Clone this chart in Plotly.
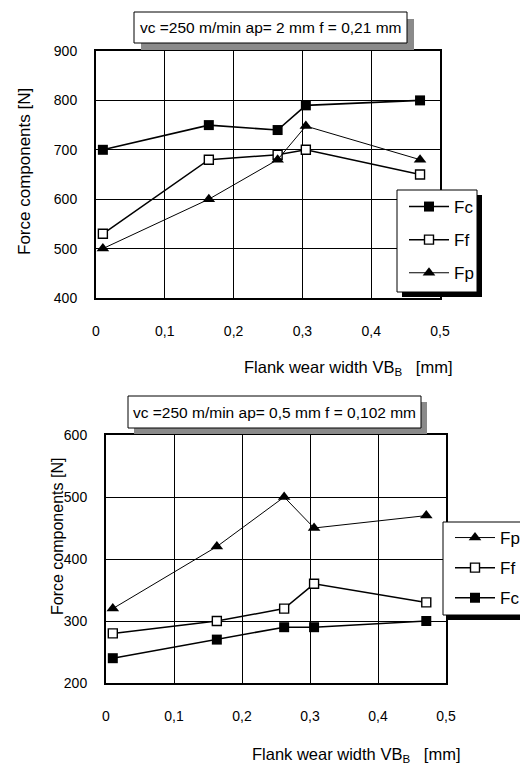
import plotly.graph_objects as go

W, H = 520, 767

# ---------------- data ----------------
X_TOP = [0.01, 0.164, 0.264, 0.305, 0.471]
FC_TOP = [700, 750, 740, 790, 800]
FF_TOP = [530, 680, 690, 700, 650]
FP_TOP = [500, 600, 680, 748, 680]

X_BOT = [0.01, 0.163, 0.262, 0.306, 0.471]
FP_BOT = [320, 420, 500, 450, 470]
FF_BOT = [280, 300, 320, 360, 330]
FC_BOT = [240, 270, 290, 290, 300]

X_TICKS = [0, 0.1, 0.2, 0.3, 0.4, 0.5]
Y_TICKS_TOP = [400, 500, 600, 700, 800, 900]
Y_TICKS_BOT = [200, 300, 400, 500, 600]

TITLE_TOP = "vc =250 m/min ap= 2 mm f = 0,21 mm"
TITLE_BOT = "vc =250 m/min ap= 0,5 mm f = 0,102 mm"
Y_TITLE = "Force components [N]"
X_TITLE = "Flank wear width VB<sub>B</sub>\u00a0\u00a0\u00a0[mm]"

FONT = "Liberation Sans, Arial, sans-serif"


def px(x):
    return x / W


def py(y):
    return 1 - y / H


STYLE = {
    "Fc": dict(marker=dict(symbol="square", size=10, color="black",
                           line=dict(color="black", width=0)),
               line=dict(color="black", width=1.6)),
    "Ff": dict(marker=dict(symbol="square", size=9, color="white",
                           line=dict(color="black", width=1.4)),
               line=dict(color="black", width=1.5)),
    "Fp": dict(marker=dict(symbol="triangle-up", size=11, color="black",
                           line=dict(color="black", width=0)),
               line=dict(color="black", width=1)),
}

fig = go.Figure()

top_series = [("Fc", FC_TOP), ("Ff", FF_TOP), ("Fp", FP_TOP)]
for name, vals in top_series:
    fig.add_trace(go.Scatter(x=X_TOP, y=vals, name=name, mode="lines+markers",
                             xaxis="x", yaxis="y", legend="legend",
                             legendgroup="t" + name, **STYLE[name]))

bot_series = [("Fp", FP_BOT), ("Ff", FF_BOT), ("Fc", FC_BOT)]
for name, vals in bot_series:
    fig.add_trace(go.Scatter(x=X_BOT, y=vals, name=name, mode="lines+markers",
                             xaxis="x2", yaxis="y2", legend="legend2",
                             legendgroup="b" + name, **STYLE[name]))

axis_common = dict(showgrid=True, gridcolor="black", gridwidth=1,
                   showline=True, linecolor="black", linewidth=2, mirror=True,
                   ticks="", zeroline=False, tickfont=dict(family=FONT, size=14, color="black"))

xa_common = dict(axis_common, range=[0, 0.5], tickvals=X_TICKS, ticklabelstandoff=19)

legend_common = dict(xanchor="left", yanchor="top", bgcolor="rgba(0,0,0,0)",
                     borderwidth=0, itemwidth=40,
                     font=dict(family=FONT, size=17, color="black"),
                     traceorder="grouped")

fig.update_layout(
    width=W, height=H,
    margin=dict(l=0, r=0, t=0, b=0, autoexpand=False),
    paper_bgcolor="white", plot_bgcolor="white",
    separators=", ",
    font=dict(family=FONT, color="black"),
    xaxis=dict(xa_common, domain=[px(96), px(440)], anchor="y"),
    yaxis=dict(axis_common, domain=[py(298), py(51)], anchor="x",
               range=[400, 900], tickvals=Y_TICKS_TOP, ticklabelstandoff=14),
    xaxis2=dict(xa_common, domain=[px(106), px(446)], anchor="y2"),
    yaxis2=dict(axis_common, domain=[py(683), py(435)], anchor="x2",
                range=[200, 600], tickvals=Y_TICKS_BOT, ticklabelstandoff=14),
    legend=dict(legend_common, x=px(404), y=py(189), tracegroupgap=8),
    legend2=dict(legend_common, x=px(450), y=py(520), tracegroupgap=5),
)

shapes = []
# title boxes with grey shadow
for (x0, y0, x1, y1, d) in [(134, 12, 407, 43, 7), (128, 396, 421, 428, 6)]:
    shapes.append(dict(type="rect", xref="paper", yref="paper",
                       x0=px(x0 + d), x1=px(x1 + d), y0=py(y0 + d), y1=py(y1 + d),
                       fillcolor="#8a8a8a", line=dict(width=0), layer="above"))
    shapes.append(dict(type="rect", xref="paper", yref="paper",
                       x0=px(x0), x1=px(x1), y0=py(y0), y1=py(y1),
                       fillcolor="white", line=dict(color="black", width=1), layer="above"))
# legend boxes with black shadow
for (x0, y0, x1, y1, d) in [(397, 190, 477, 292, 5), (443, 522, 545, 615, 5)]:
    shapes.append(dict(type="rect", xref="paper", yref="paper",
                       x0=px(x0 + d), x1=px(x1 + d), y0=py(y0 + d), y1=py(y1 + d),
                       fillcolor="black", line=dict(width=0), layer="above"))
    shapes.append(dict(type="rect", xref="paper", yref="paper",
                       x0=px(x0), x1=px(x1), y0=py(y0), y1=py(y1),
                       fillcolor="white", line=dict(color="black", width=1), layer="above"))
fig.update_layout(shapes=shapes)

ann = [
    dict(text=TITLE_TOP, x=px((134 + 407) / 2), y=py(27.5), font=dict(size=15.5)),
    dict(text=TITLE_BOT, x=px((128 + 421) / 2), y=py(412), font=dict(size=15.5)),
    dict(text=Y_TITLE, x=px(24), y=py(172), textangle=-90, font=dict(size=17)),
    dict(text=Y_TITLE, x=px(57), y=py(537), textangle=-90, font=dict(size=16)),
    dict(text=X_TITLE, x=px(348), y=py(368), font=dict(size=16.5)),
    dict(text=X_TITLE, x=px(356), y=py(755), font=dict(size=16.5)),
]
for a in ann:
    a.update(xref="paper", yref="paper", showarrow=False,
             xanchor="center", yanchor="middle")
    a["font"].update(family=FONT, color="black")
fig.update_layout(annotations=ann)

fig.write_html("out.html")
